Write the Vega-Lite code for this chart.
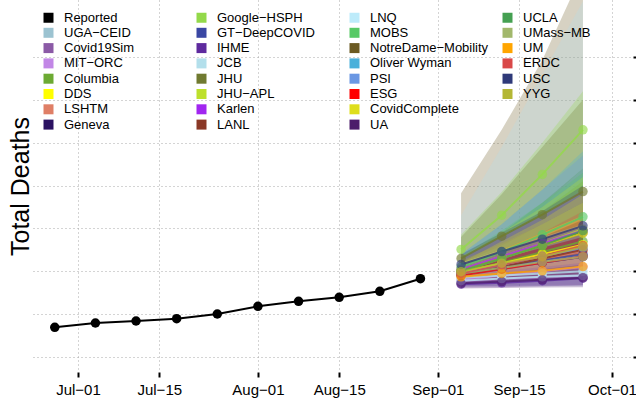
{
  "$schema": "https://vega.github.io/schema/vega-lite/v6.json",
  "width": 600,
  "height": 372,
  "autosize": "none",
  "padding": {"left": 33, "top": 0, "right": 3, "bottom": 32},
  "config": {
    "font": "Liberation Sans",
    "view": {"stroke": null},
    "axis": {"gridDash": [1, 3], "gridColor": "#a8a8a8", "gridWidth": 1}
  },
  "datasets": {
    "medians": [
      {"model": "Reported", "date": "2020-06-27", "value": 693},
      {"model": "Reported", "date": "2020-07-04", "value": 793},
      {"model": "Reported", "date": "2020-07-11", "value": 840},
      {"model": "Reported", "date": "2020-07-18", "value": 894},
      {"model": "Reported", "date": "2020-07-25", "value": 1003},
      {"model": "Reported", "date": "2020-08-01", "value": 1183},
      {"model": "Reported", "date": "2020-08-08", "value": 1300},
      {"model": "Reported", "date": "2020-08-15", "value": 1393},
      {"model": "Reported", "date": "2020-08-22", "value": 1533},
      {"model": "Reported", "date": "2020-08-29", "value": 1827},
      {"model": "UGA−CEID", "date": "2020-09-05", "value": 1930}, {"model": "UGA−CEID", "date": "2020-09-12", "value": 2080}, {"model": "UGA−CEID", "date": "2020-09-19", "value": 2220}, {"model": "UGA−CEID", "date": "2020-09-26", "value": 2370},
      {"model": "Covid19Sim", "date": "2020-09-05", "value": 1760}, {"model": "Covid19Sim", "date": "2020-09-12", "value": 1800}, {"model": "Covid19Sim", "date": "2020-09-19", "value": 1840}, {"model": "Covid19Sim", "date": "2020-09-26", "value": 1880},
      {"model": "MIT−ORC", "date": "2020-09-05", "value": 1800}, {"model": "MIT−ORC", "date": "2020-09-12", "value": 1900}, {"model": "MIT−ORC", "date": "2020-09-19", "value": 2000}, {"model": "MIT−ORC", "date": "2020-09-26", "value": 2100},
      {"model": "Columbia", "date": "2020-09-05", "value": 1980}, {"model": "Columbia", "date": "2020-09-12", "value": 2200}, {"model": "Columbia", "date": "2020-09-19", "value": 2450}, {"model": "Columbia", "date": "2020-09-26", "value": 2700},
      {"model": "DDS", "date": "2020-09-05", "value": 1980}, {"model": "DDS", "date": "2020-09-12", "value": 2180}, {"model": "DDS", "date": "2020-09-19", "value": 2400}, {"model": "DDS", "date": "2020-09-26", "value": 2620},
      {"model": "LSHTM", "date": "2020-09-05", "value": 1900}, {"model": "LSHTM", "date": "2020-09-12", "value": 2080}, {"model": "LSHTM", "date": "2020-09-19", "value": 2280}, {"model": "LSHTM", "date": "2020-09-26", "value": 2480},
      {"model": "Geneva", "date": "2020-09-05", "value": 1920}, {"model": "Geneva", "date": "2020-09-12", "value": 2060}, {"model": "Geneva", "date": "2020-09-19", "value": 2200}, {"model": "Geneva", "date": "2020-09-26", "value": 2340},
      {"model": "Google−HSPH", "date": "2020-09-05", "value": 2510}, {"model": "Google−HSPH", "date": "2020-09-12", "value": 3310}, {"model": "Google−HSPH", "date": "2020-09-19", "value": 4260}, {"model": "Google−HSPH", "date": "2020-09-26", "value": 5300},
      {"model": "GT−DeepCOVID", "date": "2020-09-05", "value": 1950}, {"model": "GT−DeepCOVID", "date": "2020-09-12", "value": 2100}, {"model": "GT−DeepCOVID", "date": "2020-09-19", "value": 2250}, {"model": "GT−DeepCOVID", "date": "2020-09-26", "value": 2400},
      {"model": "IHME", "date": "2020-09-05", "value": 1700}, {"model": "IHME", "date": "2020-09-12", "value": 1730}, {"model": "IHME", "date": "2020-09-19", "value": 1780}, {"model": "IHME", "date": "2020-09-26", "value": 1840},
      {"model": "JCB", "date": "2020-09-05", "value": 1850}, {"model": "JCB", "date": "2020-09-12", "value": 1900}, {"model": "JCB", "date": "2020-09-19", "value": 1950}, {"model": "JCB", "date": "2020-09-26", "value": 2000},
      {"model": "JHU", "date": "2020-09-05", "value": 2300}, {"model": "JHU", "date": "2020-09-12", "value": 2820}, {"model": "JHU", "date": "2020-09-19", "value": 3320}, {"model": "JHU", "date": "2020-09-26", "value": 3860},
      {"model": "JHU−APL", "date": "2020-09-05", "value": 2050}, {"model": "JHU−APL", "date": "2020-09-12", "value": 2350}, {"model": "JHU−APL", "date": "2020-09-19", "value": 2650}, {"model": "JHU−APL", "date": "2020-09-26", "value": 2980},
      {"model": "Karlen", "date": "2020-09-05", "value": 2050}, {"model": "Karlen", "date": "2020-09-12", "value": 2350}, {"model": "Karlen", "date": "2020-09-19", "value": 2650}, {"model": "Karlen", "date": "2020-09-26", "value": 2950},
      {"model": "LANL", "date": "2020-09-05", "value": 1920}, {"model": "LANL", "date": "2020-09-12", "value": 2100}, {"model": "LANL", "date": "2020-09-19", "value": 2300}, {"model": "LANL", "date": "2020-09-26", "value": 2500},
      {"model": "LNQ", "date": "2020-09-05", "value": 1780}, {"model": "LNQ", "date": "2020-09-12", "value": 1830}, {"model": "LNQ", "date": "2020-09-19", "value": 1870}, {"model": "LNQ", "date": "2020-09-26", "value": 1900},
      {"model": "MOBS", "date": "2020-09-05", "value": 2100}, {"model": "MOBS", "date": "2020-09-12", "value": 2450}, {"model": "MOBS", "date": "2020-09-19", "value": 2850}, {"model": "MOBS", "date": "2020-09-26", "value": 3270},
      {"model": "NotreDame−Mobility", "date": "2020-09-05", "value": 2000}, {"model": "NotreDame−Mobility", "date": "2020-09-12", "value": 2300}, {"model": "NotreDame−Mobility", "date": "2020-09-19", "value": 2600}, {"model": "NotreDame−Mobility", "date": "2020-09-26", "value": 2900},
      {"model": "Oliver Wyman", "date": "2020-09-05", "value": 1900}, {"model": "Oliver Wyman", "date": "2020-09-12", "value": 2050}, {"model": "Oliver Wyman", "date": "2020-09-19", "value": 2200}, {"model": "Oliver Wyman", "date": "2020-09-26", "value": 2350},
      {"model": "PSI", "date": "2020-09-05", "value": 1950}, {"model": "PSI", "date": "2020-09-12", "value": 2150}, {"model": "PSI", "date": "2020-09-19", "value": 2350}, {"model": "PSI", "date": "2020-09-26", "value": 2550},
      {"model": "ESG", "date": "2020-09-05", "value": 1900}, {"model": "ESG", "date": "2020-09-12", "value": 2050}, {"model": "ESG", "date": "2020-09-19", "value": 2200}, {"model": "ESG", "date": "2020-09-26", "value": 2350},
      {"model": "CovidComplete", "date": "2020-09-05", "value": 2000}, {"model": "CovidComplete", "date": "2020-09-12", "value": 2300}, {"model": "CovidComplete", "date": "2020-09-19", "value": 2600}, {"model": "CovidComplete", "date": "2020-09-26", "value": 2890},
      {"model": "UA", "date": "2020-09-05", "value": 1720}, {"model": "UA", "date": "2020-09-12", "value": 1760}, {"model": "UA", "date": "2020-09-19", "value": 1800}, {"model": "UA", "date": "2020-09-26", "value": 1850},
      {"model": "UCLA", "date": "2020-09-05", "value": 2000}, {"model": "UCLA", "date": "2020-09-12", "value": 2300}, {"model": "UCLA", "date": "2020-09-19", "value": 2600}, {"model": "UCLA", "date": "2020-09-26", "value": 2950},
      {"model": "UMass−MB", "date": "2020-09-05", "value": 1950}, {"model": "UMass−MB", "date": "2020-09-12", "value": 2080}, {"model": "UMass−MB", "date": "2020-09-19", "value": 2220}, {"model": "UMass−MB", "date": "2020-09-26", "value": 2340},
      {"model": "UM", "date": "2020-09-05", "value": 1870}, {"model": "UM", "date": "2020-09-12", "value": 1950}, {"model": "UM", "date": "2020-09-19", "value": 2010}, {"model": "UM", "date": "2020-09-26", "value": 2110},
      {"model": "ERDC", "date": "2020-09-05", "value": 1950}, {"model": "ERDC", "date": "2020-09-12", "value": 2150}, {"model": "ERDC", "date": "2020-09-19", "value": 2350}, {"model": "ERDC", "date": "2020-09-26", "value": 2600},
      {"model": "USC", "date": "2020-09-05", "value": 2160}, {"model": "USC", "date": "2020-09-12", "value": 2460}, {"model": "USC", "date": "2020-09-19", "value": 2750}, {"model": "USC", "date": "2020-09-26", "value": 3060},
      {"model": "YYG", "date": "2020-09-05", "value": 1990}, {"model": "YYG", "date": "2020-09-12", "value": 2190}, {"model": "YYG", "date": "2020-09-19", "value": 2340}, {"model": "YYG", "date": "2020-09-26", "value": 2570}
    ],
    "intervals": [
      {"model": "NotreDame−Mobility", "date": "2020-09-05", "lower": 1750, "upper": 3820}, {"model": "NotreDame−Mobility", "date": "2020-09-12", "lower": 1850, "upper": 5300}, {"model": "NotreDame−Mobility", "date": "2020-09-19", "lower": 1950, "upper": 6930}, {"model": "NotreDame−Mobility", "date": "2020-09-26", "lower": 2050, "upper": 9000},
      {"model": "JCB", "date": "2020-09-05", "lower": 1650, "upper": 3300}, {"model": "JCB", "date": "2020-09-12", "lower": 1650, "upper": 4900}, {"model": "JCB", "date": "2020-09-19", "lower": 1650, "upper": 6600}, {"model": "JCB", "date": "2020-09-26", "lower": 1650, "upper": 8300},
      {"model": "Google−HSPH", "date": "2020-09-05", "lower": 2200, "upper": 2850}, {"model": "Google−HSPH", "date": "2020-09-12", "lower": 2800, "upper": 3850}, {"model": "Google−HSPH", "date": "2020-09-19", "lower": 3500, "upper": 5000}, {"model": "Google−HSPH", "date": "2020-09-26", "lower": 4400, "upper": 6200},
      {"model": "JHU", "date": "2020-09-05", "lower": 1900, "upper": 2800}, {"model": "JHU", "date": "2020-09-12", "lower": 2100, "upper": 3800}, {"model": "JHU", "date": "2020-09-19", "lower": 2300, "upper": 4900}, {"model": "JHU", "date": "2020-09-26", "lower": 2500, "upper": 6000},
      {"model": "Oliver Wyman", "date": "2020-09-05", "lower": 1750, "upper": 2400}, {"model": "Oliver Wyman", "date": "2020-09-12", "lower": 1800, "upper": 3100}, {"model": "Oliver Wyman", "date": "2020-09-19", "lower": 1850, "upper": 3900}, {"model": "Oliver Wyman", "date": "2020-09-26", "lower": 1900, "upper": 4800},
      {"model": "PSI", "date": "2020-09-05", "lower": 1750, "upper": 2400}, {"model": "PSI", "date": "2020-09-12", "lower": 1800, "upper": 3100}, {"model": "PSI", "date": "2020-09-19", "lower": 1850, "upper": 3900}, {"model": "PSI", "date": "2020-09-26", "lower": 1900, "upper": 4700},
      {"model": "UCLA", "date": "2020-09-05", "lower": 1800, "upper": 2300}, {"model": "UCLA", "date": "2020-09-12", "lower": 1900, "upper": 2900}, {"model": "UCLA", "date": "2020-09-19", "lower": 2000, "upper": 3600}, {"model": "UCLA", "date": "2020-09-26", "lower": 2100, "upper": 4400},
      {"model": "MOBS", "date": "2020-09-05", "lower": 1900, "upper": 2350}, {"model": "MOBS", "date": "2020-09-12", "lower": 2050, "upper": 2950}, {"model": "MOBS", "date": "2020-09-19", "lower": 2250, "upper": 3600}, {"model": "MOBS", "date": "2020-09-26", "lower": 2450, "upper": 4300},
      {"model": "Columbia", "date": "2020-09-05", "lower": 1800, "upper": 2300}, {"model": "Columbia", "date": "2020-09-12", "lower": 1900, "upper": 2800}, {"model": "Columbia", "date": "2020-09-19", "lower": 2000, "upper": 3400}, {"model": "Columbia", "date": "2020-09-26", "lower": 2100, "upper": 4100},
      {"model": "JHU−APL", "date": "2020-09-05", "lower": 1850, "upper": 2350}, {"model": "JHU−APL", "date": "2020-09-12", "lower": 1950, "upper": 2900}, {"model": "JHU−APL", "date": "2020-09-19", "lower": 2050, "upper": 3500}, {"model": "JHU−APL", "date": "2020-09-26", "lower": 2150, "upper": 4200},
      {"model": "USC", "date": "2020-09-05", "lower": 1950, "upper": 2400}, {"model": "USC", "date": "2020-09-12", "lower": 2100, "upper": 2900}, {"model": "USC", "date": "2020-09-19", "lower": 2250, "upper": 3400}, {"model": "USC", "date": "2020-09-26", "lower": 2400, "upper": 4000},
      {"model": "Karlen", "date": "2020-09-05", "lower": 1850, "upper": 2300}, {"model": "Karlen", "date": "2020-09-12", "lower": 1950, "upper": 2800}, {"model": "Karlen", "date": "2020-09-19", "lower": 2050, "upper": 3300}, {"model": "Karlen", "date": "2020-09-26", "lower": 2150, "upper": 3900},
      {"model": "CovidComplete", "date": "2020-09-05", "lower": 1850, "upper": 2200}, {"model": "CovidComplete", "date": "2020-09-12", "lower": 1950, "upper": 2700}, {"model": "CovidComplete", "date": "2020-09-19", "lower": 2050, "upper": 3200}, {"model": "CovidComplete", "date": "2020-09-26", "lower": 2150, "upper": 3800},
      {"model": "UMass−MB", "date": "2020-09-05", "lower": 1750, "upper": 2200}, {"model": "UMass−MB", "date": "2020-09-12", "lower": 1800, "upper": 2600}, {"model": "UMass−MB", "date": "2020-09-19", "lower": 1850, "upper": 3100}, {"model": "UMass−MB", "date": "2020-09-26", "lower": 1900, "upper": 3600},
      {"model": "YYG", "date": "2020-09-05", "lower": 1800, "upper": 2250}, {"model": "YYG", "date": "2020-09-12", "lower": 1850, "upper": 2650}, {"model": "YYG", "date": "2020-09-19", "lower": 1900, "upper": 3100}, {"model": "YYG", "date": "2020-09-26", "lower": 1950, "upper": 3600},
      {"model": "ERDC", "date": "2020-09-05", "lower": 1800, "upper": 2150}, {"model": "ERDC", "date": "2020-09-12", "lower": 1850, "upper": 2500}, {"model": "ERDC", "date": "2020-09-19", "lower": 1900, "upper": 2900}, {"model": "ERDC", "date": "2020-09-26", "lower": 1950, "upper": 3400},
      {"model": "DDS", "date": "2020-09-05", "lower": 1800, "upper": 2200}, {"model": "DDS", "date": "2020-09-12", "lower": 1900, "upper": 2500}, {"model": "DDS", "date": "2020-09-19", "lower": 2000, "upper": 2900}, {"model": "DDS", "date": "2020-09-26", "lower": 2100, "upper": 3300},
      {"model": "LSHTM", "date": "2020-09-05", "lower": 1750, "upper": 2100}, {"model": "LSHTM", "date": "2020-09-12", "lower": 1800, "upper": 2450}, {"model": "LSHTM", "date": "2020-09-19", "lower": 1850, "upper": 2850}, {"model": "LSHTM", "date": "2020-09-26", "lower": 1900, "upper": 3300},
      {"model": "LANL", "date": "2020-09-05", "lower": 1800, "upper": 2100}, {"model": "LANL", "date": "2020-09-12", "lower": 1850, "upper": 2450}, {"model": "LANL", "date": "2020-09-19", "lower": 1900, "upper": 2800}, {"model": "LANL", "date": "2020-09-26", "lower": 1950, "upper": 3200},
      {"model": "UGA−CEID", "date": "2020-09-05", "lower": 1750, "upper": 2200}, {"model": "UGA−CEID", "date": "2020-09-12", "lower": 1800, "upper": 2500}, {"model": "UGA−CEID", "date": "2020-09-19", "lower": 1850, "upper": 2800}, {"model": "UGA−CEID", "date": "2020-09-26", "lower": 1900, "upper": 3100},
      {"model": "GT−DeepCOVID", "date": "2020-09-05", "lower": 1800, "upper": 2150}, {"model": "GT−DeepCOVID", "date": "2020-09-12", "lower": 1850, "upper": 2450}, {"model": "GT−DeepCOVID", "date": "2020-09-19", "lower": 1900, "upper": 2750}, {"model": "GT−DeepCOVID", "date": "2020-09-26", "lower": 1950, "upper": 3050},
      {"model": "Geneva", "date": "2020-09-05", "lower": 1800, "upper": 2050}, {"model": "Geneva", "date": "2020-09-12", "lower": 1850, "upper": 2300}, {"model": "Geneva", "date": "2020-09-19", "lower": 1900, "upper": 2550}, {"model": "Geneva", "date": "2020-09-26", "lower": 1950, "upper": 2800},
      {"model": "ESG", "date": "2020-09-05", "lower": 1800, "upper": 2050}, {"model": "ESG", "date": "2020-09-12", "lower": 1850, "upper": 2300}, {"model": "ESG", "date": "2020-09-19", "lower": 1900, "upper": 2550}, {"model": "ESG", "date": "2020-09-26", "lower": 1950, "upper": 2800},
      {"model": "MIT−ORC", "date": "2020-09-05", "lower": 1700, "upper": 1950}, {"model": "MIT−ORC", "date": "2020-09-12", "lower": 1750, "upper": 2100}, {"model": "MIT−ORC", "date": "2020-09-19", "lower": 1800, "upper": 2300}, {"model": "MIT−ORC", "date": "2020-09-26", "lower": 1850, "upper": 2500},
      {"model": "UM", "date": "2020-09-05", "lower": 1750, "upper": 2000}, {"model": "UM", "date": "2020-09-12", "lower": 1780, "upper": 2150}, {"model": "UM", "date": "2020-09-19", "lower": 1800, "upper": 2300}, {"model": "UM", "date": "2020-09-26", "lower": 1830, "upper": 2450},
      {"model": "LNQ", "date": "2020-09-05", "lower": 1650, "upper": 1950}, {"model": "LNQ", "date": "2020-09-12", "lower": 1670, "upper": 2100}, {"model": "LNQ", "date": "2020-09-19", "lower": 1690, "upper": 2250}, {"model": "LNQ", "date": "2020-09-26", "lower": 1700, "upper": 2400},
      {"model": "Covid19Sim", "date": "2020-09-05", "lower": 1650, "upper": 1900}, {"model": "Covid19Sim", "date": "2020-09-12", "lower": 1660, "upper": 2000}, {"model": "Covid19Sim", "date": "2020-09-19", "lower": 1670, "upper": 2100}, {"model": "Covid19Sim", "date": "2020-09-26", "lower": 1680, "upper": 2200},
      {"model": "IHME", "date": "2020-09-05", "lower": 1620, "upper": 1800}, {"model": "IHME", "date": "2020-09-12", "lower": 1630, "upper": 1870}, {"model": "IHME", "date": "2020-09-19", "lower": 1650, "upper": 1950}, {"model": "IHME", "date": "2020-09-26", "lower": 1670, "upper": 2050},
      {"model": "UA", "date": "2020-09-05", "lower": 1600, "upper": 1850}, {"model": "UA", "date": "2020-09-12", "lower": 1610, "upper": 1950}, {"model": "UA", "date": "2020-09-19", "lower": 1620, "upper": 2050}, {"model": "UA", "date": "2020-09-26", "lower": 1630, "upper": 2150}
    ]
  },
  "resolve": {"axis": {"y": "independent"}},
  "layer": [
    {
      "data": {"name": "intervals"},
      "mark": {"type": "area", "fillOpacity": 0.27, "clip": true},
      "encoding": {
        "x": {
          "field": "date", "type": "temporal",
          "scale": {"type": "utc", "domain": [{"year": 2020, "month": 6, "date": 23, "hours": 5, "minutes": 56, "utc": true}, {"year": 2020, "month": 10, "date": 4, "hours": 14, "minutes": 53, "utc": true}]},
          "axis": {
            "title": null, "domain": false, "grid": true, "ticks": true, "tickSize": 5, "tickWidth": 2, "tickColor": "#000000",
            "labelFontSize": 15, "labelColor": "#000000", "labelPadding": 5, "labelFlush": false, "labelOverlap": false,
            "values": [
              {"year": 2020, "month": 7, "date": 1, "utc": true},
              {"year": 2020, "month": 7, "date": 15, "utc": true},
              {"year": 2020, "month": 8, "date": 1, "utc": true},
              {"year": 2020, "month": 8, "date": 15, "utc": true},
              {"year": 2020, "month": 9, "date": 1, "utc": true},
              {"year": 2020, "month": 9, "date": 15, "utc": true},
              {"year": 2020, "month": 10, "date": 1, "utc": true}
            ],
            "labelExpr": "replace(utcFormat(datum.value, '%b-%d'), '-', '−')"
          }
        },
        "y": {
          "field": "lower", "type": "quantitative",
          "scale": {"domain": [-350, 8330], "nice": false, "zero": false},
          "axis": {
            "orient": "left", "title": "Total Deaths", "titleFontSize": 25, "titleFontWeight": "normal", "titleColor": "#000000",
            "titleBaseline": "alphabetic", "titlePadding": 5,
            "labels": false, "ticks": false, "domain": false, "grid": true,
            "values": [0, 1000, 2000, 3000, 4000, 5000, 6000, 7000]
          }
        },
        "y2": {"field": "upper"},
        "color": {
          "field": "model", "type": "nominal",
          "scale": {
            "domain": ["Reported", "Google−HSPH", "LNQ", "UCLA", "UGA−CEID", "GT−DeepCOVID", "MOBS", "UMass−MB", "Covid19Sim", "IHME", "NotreDame−Mobility", "UM", "MIT−ORC", "JCB", "Oliver Wyman", "ERDC", "Columbia", "JHU", "PSI", "USC", "DDS", "JHU−APL", "ESG", "YYG", "LSHTM", "Karlen", "CovidComplete", " ", "Geneva", "LANL", "UA"],
            "range": ["#000000", "#93D94A", "#BDEBFA", "#45A052", "#9CC3D1", "#3A47A3", "#57C965", "#A2B86C", "#8B5AA6", "#5E2A9E", "#6B5A22", "#FFA500", "#C287E6", "#B3DFEB", "#4AB0DA", "#D94848", "#6CAA33", "#707A30", "#6A97E3", "#2F3A79", "#FFFF00", "#BDE02C", "#FF0000", "#B4B735", "#DF7F66", "#A126F0", "#DEDE1C", "rgba(0,0,0,0)", "#2B1262", "#8A3826", "#4D1D6B"]
          },
          "legend": {
            "title": null, "orient": "none", "legendX": 9, "legendY": 11, "direction": "horizontal", "columns": 4, "gridAlign": "all",
            "columnPadding": 12, "rowPadding": 1.3, "symbolType": "square", "symbolSize": 100, "symbolOpacity": 1, "symbolLimit": 0,
            "symbolStrokeWidth": 0, "labelFontSize": 13, "labelOffset": 9, "labelColor": "#000000", "labelLimit": 0, "padding": 0
          }
        }
      }
    },
    {
      "data": {"name": "medians"},
      "mark": {"type": "line", "strokeWidth": 2},
      "encoding": {
        "x": {"field": "date", "type": "temporal"},
        "y": {
          "field": "value", "type": "quantitative",
          "axis": {"orient": "right", "title": null, "labels": false, "domain": false, "grid": false, "ticks": true, "tickSize": 7, "tickWidth": 2, "tickColor": "#000000", "values": [0, 1000, 2000, 3000, 4000, 5000, 6000, 7000]}
        },
        "color": {"field": "model", "type": "nominal"},
        "opacity": {"condition": {"test": "datum.model === 'Reported'", "value": 1}, "value": 0.8}
      }
    },
    {
      "data": {"name": "medians"},
      "mark": {"type": "point", "filled": true, "size": 90},
      "encoding": {
        "x": {"field": "date", "type": "temporal"},
        "y": {"field": "value", "type": "quantitative", "axis": null},
        "color": {"field": "model", "type": "nominal"},
        "opacity": {"condition": {"test": "datum.model === 'Reported'", "value": 1}, "value": 0.65}
      }
    },
    {
      "mark": {"type": "rule", "strokeWidth": 2, "color": "#000000"},
      "encoding": {
        "x": {"datum": {"year": 2020, "month": 7, "date": 1, "utc": true}, "type": "temporal"},
        "x2": {"datum": {"year": 2020, "month": 10, "date": 1, "utc": true}},
        "y": {"datum": -350, "type": "quantitative", "axis": null}
      }
    },
    {
      "mark": {"type": "rule", "strokeWidth": 2, "color": "#000000"},
      "encoding": {
        "x": {"datum": {"year": 2020, "month": 10, "date": 4, "hours": 14, "minutes": 53, "utc": true}, "type": "temporal"},
        "y": {"datum": 0, "type": "quantitative", "axis": null},
        "y2": {"datum": 7000}
      }
    },
    {
      "mark": {"type": "text", "align": "right", "baseline": "middle", "fontSize": 13, "dx": -6, "color": "#000000"},
      "encoding": {
        "x": {"datum": {"year": 2020, "month": 10, "date": 4, "hours": 14, "minutes": 53, "utc": true}, "type": "temporal"},
        "y": {"datum": 0, "type": "quantitative", "axis": null},
        "text": {"value": "Bands: 95% Prediction Intervals"}
      }
    }
  ]
}
